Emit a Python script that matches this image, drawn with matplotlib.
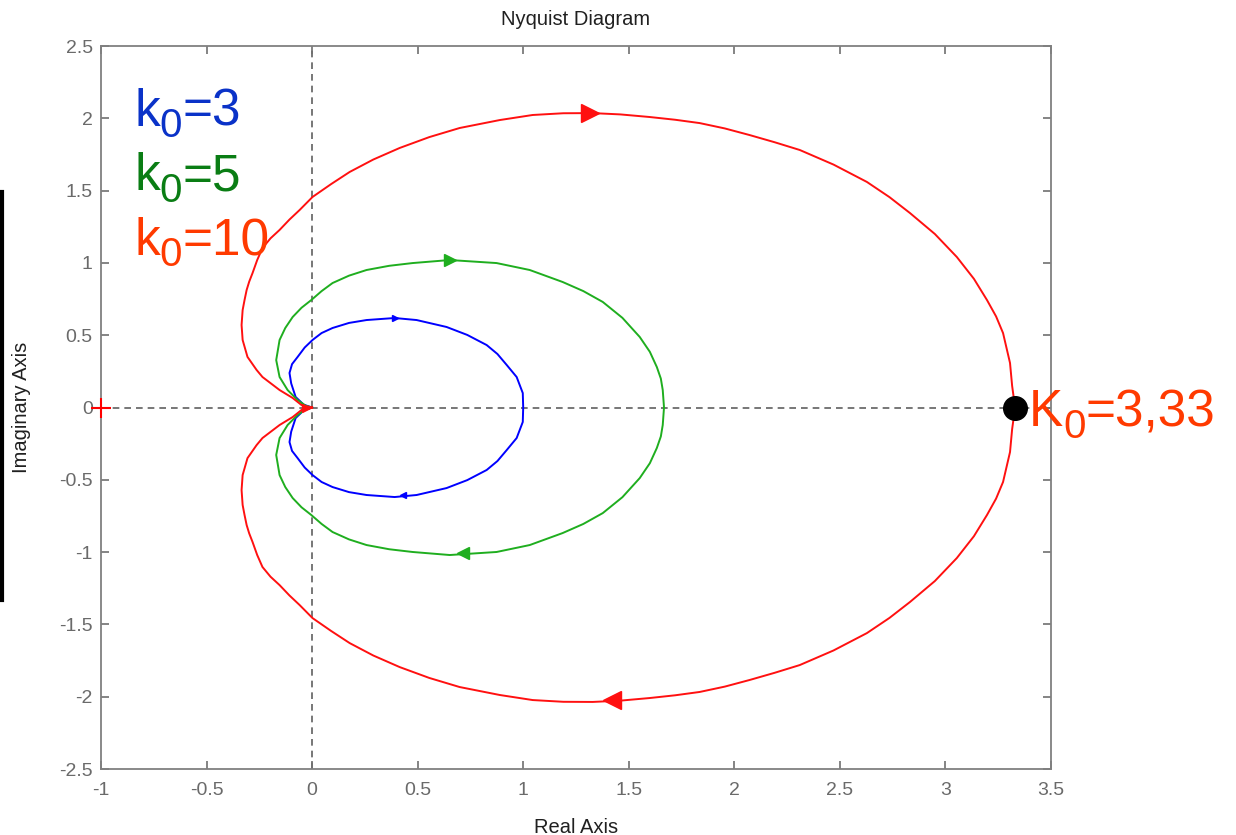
import numpy as np
import matplotlib
matplotlib.use("Agg")
import matplotlib.pyplot as plt
from matplotlib.lines import Line2D

plt.rcParams['font.family'] = ['Liberation Sans', 'DejaVu Sans']

W, H = 1236, 835

# upper half of each Nyquist curve (origin -> real-axis crossing)
blue_re = [0.0, -0.040, -0.078, -0.099, -0.107, -0.095, -0.069, -0.035, 0.002, 0.045,
           0.097, 0.175, 0.258, 0.391, 0.495, 0.637, 0.735, 0.827, 0.878, 0.922,
           0.969, 0.998, 1.0]
blue_im = [0.0, 0.020, 0.073, 0.167, 0.239, 0.300, 0.349, 0.415, 0.467, 0.515,
           0.550, 0.585, 0.605, 0.619, 0.605, 0.557, 0.502, 0.432, 0.370, 0.294,
           0.211, 0.100, 0.0]

green_re = [0.0, -0.030, -0.069, -0.116, -0.154, -0.170, -0.154, -0.127, -0.092, -0.050,
            -0.004, 0.045, 0.097, 0.175, 0.258, 0.365, 0.476, 0.652, 0.874, 1.031,
            1.187, 1.285, 1.377, 1.470, 1.552, 1.600, 1.633, 1.652, 1.661, 1.667]
green_im = [0.0, 0.012, 0.052, 0.121, 0.211, 0.328, 0.467, 0.550, 0.626, 0.690,
            0.743, 0.805, 0.861, 0.912, 0.951, 0.980, 0.999, 1.020, 0.999, 0.951,
            0.868, 0.805, 0.730, 0.620, 0.488, 0.385, 0.280, 0.200, 0.121, 0.0]

red_re = [0.0, -0.050, -0.092, -0.154, -0.235, -0.263, -0.306, -0.329, -0.334, -0.329,
          -0.320, -0.310, -0.298, -0.282, -0.260, -0.235, -0.197, -0.154, -0.107, -0.059,
          0.002, 0.090, 0.178, 0.290, 0.415, 0.555, 0.699, 0.889, 1.045, 1.190,
          1.329, 1.460, 1.599, 1.720, 1.836, 1.955, 2.073, 2.190, 2.310, 2.470,
          2.628, 2.735, 2.832, 2.950, 3.054, 3.135, 3.197, 3.240, 3.273, 3.306,
          3.316, 3.330]
red_im = [0.0, 0.017, 0.066, 0.121, 0.211, 0.260, 0.350, 0.467, 0.571, 0.674,
          0.743, 0.813, 0.870, 0.930, 1.020, 1.103, 1.170, 1.228, 1.300, 1.366,
          1.456, 1.545, 1.629, 1.715, 1.795, 1.870, 1.933, 1.988, 2.023, 2.035,
          2.036, 2.027, 2.009, 1.990, 1.967, 1.930, 1.884, 1.835, 1.781, 1.680,
          1.560, 1.455, 1.345, 1.200, 1.041, 0.890, 0.743, 0.630, 0.515, 0.308,
          0.150, 0.0]

# arrow positions (upper, lower) on each curve
blue_arrows = [(0.391, 0.619), (0.429, -0.605)]
green_arrows = [(0.652, 1.020), (0.713, -1.006)]
red_arrows = [(1.315, 2.036), (1.42, -2.02)]

# legend-like annotations: (main, subscript, rest)
labels = [('k', '0', '=3'), ('k', '0', '=5'), ('k', '0', '=10')]
label_colors = ['#0a32c8', '#0a7d14', '#ff3a00']
critical_gain = 3.33
critical_label = ('K', '0', '=3,33')

curves = [
    (blue_re, blue_im, blue_arrows, '#0000ff', 5),
    (green_re, green_im, green_arrows, '#1fae1f', 8),
    (red_re, red_im, red_arrows, '#ff1010', 13),
]

fig = plt.figure(figsize=(W / 100, H / 100), dpi=100)
ax = fig.add_axes([0.0817, 0.0790, 0.7686, 0.8659])

ax.axhline(0, color='#606060', lw=1.2, ls=(0, (4, 3)), zorder=1)
ax.axvline(0, color='#606060', lw=1.2, ls=(0, (4, 3)), zorder=1)

for re, im, arrows, col, asize in curves:
    re = np.asarray(re)
    im = np.asarray(im)
    x = np.concatenate([re, re[::-1]])
    y = np.concatenate([im, -im[::-1]])
    ax.plot(x, y, color=col, lw=1.4, zorder=3)
    (xu, yu), (xl, yl) = arrows
    ax.plot(xu, yu, marker='>', ms=asize, color=col, mec=col, zorder=4)
    ax.plot(xl, yl, marker='<', ms=asize, color=col, mec=col, zorder=4)
    # small arrows at the origin
    ax.plot(-0.03, 0, marker='>', ms=asize * 0.45, color=col, mec=col, zorder=4)

ax.plot(-1, 0, marker='+', ms=14, mew=1.5, color='#ff0000', zorder=4, clip_on=False)

ax.set_xlim(-1, 3.5)
ax.set_ylim(-2.5, 2.5)
xt = np.arange(-1, 3.51, 0.5)
yt = np.arange(-2.5, 2.51, 0.5)
ax.set_xticks(xt)
ax.set_yticks(yt)
ax.set_xticklabels([f'{v:g}' for v in xt])
ax.set_yticklabels([f'{v:g}' for v in yt])
ax.tick_params(direction='in', length=6, width=1.2, color='#707070',
               labelcolor='#6a6a6a', labelsize=14, top=True, right=True)
ax.tick_params(axis='x', pad=9)
ax.tick_params(axis='y', pad=6)
for s in ax.spines.values():
    s.set_color('#808080')
    s.set_linewidth(1.3)

ax.set_title('Nyquist Diagram', fontsize=14.5, color='#202020', pad=15)
ax.set_xlabel('Real Axis', fontsize=14.5, color='#202020', labelpad=14)
fig.text(22 / W, 1 - 407 / H, 'Imaginary Axis', rotation=90, fontsize=14.5,
         color='#202020', ha='center', va='center')

renderer = fig.canvas.get_renderer()


def sub_text(x_px, base_px, parts, color, size=37, sub_size=29, drop=11):
    """write main + lowered subscript + rest, piece by piece (pixel coords from top-left)"""
    main, sub, rest = parts
    x = x_px
    for txt, fs, dy in [(main, size, 0), (sub, sub_size, drop), (rest, size, 0)]:
        t = fig.text(x / W, 1 - (base_px + dy) / H, txt, fontsize=fs, color=color,
                     ha='left', va='baseline')
        x = t.get_window_extent(renderer).x1


for i, (parts, c) in enumerate(zip(labels, label_colors)):
    sub_text(134, 126 + 64.5 * i, parts, c)

ax.plot(critical_gain, 0, 'o', ms=17, color='black', zorder=6, clip_on=False)
sub_text(1029, 426, critical_label, '#ff3a00', drop=12)

# stray vertical bar at the left edge
fig.add_artist(Line2D([2 / W, 2 / W], [1 - 192 / H, 1 - 600 / H],
                      transform=fig.transFigure, color='black', lw=3))

fig.savefig('out.png', dpi=100)
